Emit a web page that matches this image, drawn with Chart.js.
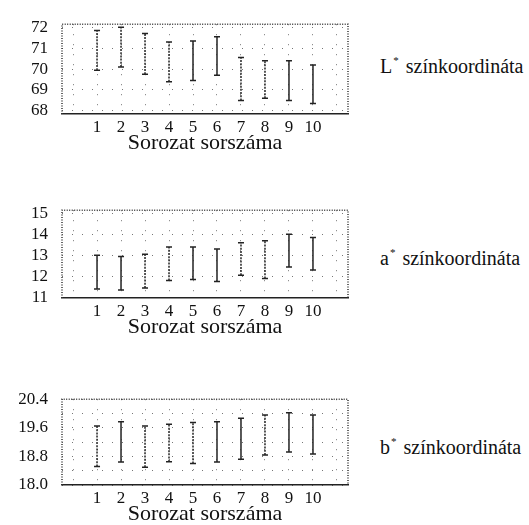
<!DOCTYPE html>
<html>
<head>
<meta charset="utf-8">
<script src="https://cdn.jsdelivr.net/npm/chart.js@4/dist/chart.umd.min.js"></script>
<style>
  body { margin: 0; background: #fff; }
  #wrap { position: relative; width: 529px; height: 525px; }
  canvas { position: absolute; left: 0; }
  .side { position: absolute; left: 380px; font-family: "Liberation Serif", Tinos, "Times New Roman", "DejaVu Serif", serif; font-size: 20px; line-height: 24px; color: #111; white-space: nowrap; }
  .side sup { font-size: 11px; vertical-align: 9px; margin-left: 1px; margin-right: 2px; }
</style>
</head>
<body>
<div id="wrap">
  <canvas id="cL" width="360" height="154" style="top:0"></canvas>
  <canvas id="cA" width="360" height="152" style="top:186px"></canvas>
  <canvas id="cB" width="360" height="150" style="top:375px"></canvas>
  <div class="side" style="top:48px">L<sup>*</sup> színkoordináta</div>
  <div class="side" style="top:240px">a<sup>*</sup> színkoordináta</div>
  <div class="side" style="top:429px">b<sup>*</sup> színkoordináta</div>
</div>
<script>
// sorozat sorszáma
const series = [1, 2, 3, 4, 5, 6, 7, 8, 9, 10];

// L* színkoordináta
const lLow  = [69.95, 70.1, 69.75, 69.4, 69.45, 69.7, 68.5, 68.6, 68.5, 68.35];
const lHigh = [71.85, 72.0, 71.7, 71.3, 71.35, 71.55, 70.55, 70.4, 70.4, 70.2];
const lTicks = ['68', '69', '70', '71', '72'];

// a* színkoordináta
const aLow  = [11.4, 11.35, 11.45, 11.8, 11.85, 11.75, 12.05, 11.9, 12.45, 12.3];
const aHigh = [13.0, 12.95, 13.05, 13.4, 13.4, 13.3, 13.6, 13.7, 14.0, 13.85];
const aTicks = ['11', '12', '13', '14', '15'];

// b* színkoordináta
const bLow  = [18.52, 18.64, 18.5, 18.65, 18.6, 18.64, 18.72, 18.84, 18.92, 18.87];
const bHigh = [19.65, 19.77, 19.65, 19.7, 19.75, 19.77, 19.87, 19.96, 20.02, 19.96];
const bTicks = ['18.0', '18.8', '19.6', '20.4'];

const serif = '"Liberation Serif", Tinos, "Times New Roman", "DejaVu Serif", serif';

// dotted frame around the plot area
const framePlugin = {
  id: 'frame',
  afterDraw(chart) {
    const { ctx, chartArea: a } = chart;
    ctx.save();
    ctx.strokeStyle = '#333';
    ctx.lineWidth = 1.5;
    ctx.setLineDash([1, 1.5]);
    ctx.beginPath();
    ctx.moveTo(a.left, a.bottom);
    ctx.lineTo(a.left, a.top);
    ctx.lineTo(a.right, a.top);
    ctx.lineTo(a.right, a.bottom);
    ctx.stroke();
    ctx.restore();
  }
};

function makePanel(id, lows, highs, yMin, yMax, yStep, yTicks, dotted) {
  // each bar: low point, high point, gap
  const pts = [];
  series.forEach((s, i) => {
    pts.push({ x: s, y: lows[i] }, { x: s, y: highs[i] }, { x: s, y: null });
  });

  new Chart(document.getElementById(id), {
    type: 'line',
    data: {
      datasets: [{
        data: pts,
        borderColor: '#222',
        borderWidth: 1.5,
        spanGaps: false,
        pointStyle: 'line',
        pointRadius: 3,
        pointBorderWidth: 1.5,
        pointBorderColor: '#222',
        segment: {
          borderDash: ctx => dotted[Math.floor(ctx.p0DataIndex / 3)] ? [2, 1.2] : undefined
        }
      }]
    },
    options: {
      responsive: false,
      animation: false,
      layout: { padding: { top: 13, right: 12, left: 0, bottom: 0 } },
      plugins: { legend: { display: false }, tooltip: { enabled: false } },
      scales: {
        x: {
          type: 'linear',
          min: -0.46,
          max: 11.46,
          afterFit: scale => { scale.height = 40; },
          grid: { color: '#777', lineWidth: 1, drawTicks: false },
          border: { display: true, color: '#222', width: 1.5, dash: [1, 9] },
          ticks: {
            stepSize: 1,
            includeBounds: false,
            autoSkip: false,
            maxRotation: 0,
            padding: 3,
            color: '#111',
            font: { family: serif, size: 17 },
            callback: v => (series.includes(v) ? String(v) : '')
          },
          title: {
            display: true,
            text: 'Sorozat sorszáma',
            color: '#111',
            padding: 0,
            font: { family: serif, size: 22, lineHeight: 1 }
          }
        },
        y: {
          min: yMin,
          max: yMax,
          afterFit: scale => { scale.width = 62; },
          grid: { color: '#777', lineWidth: 1, drawTicks: false },
          border: { display: false, dash: [1, 9] },
          ticks: {
            stepSize: yStep,
            includeBounds: false,
            autoSkip: false,
            padding: 14,
            color: '#111',
            font: { family: serif, size: 17 },
            callback: v => {
              const t = yStep < 1 ? v.toFixed(1) : String(Math.round(v));
              return yTicks.includes(t) ? t : '';
            }
          }
        }
      }
    },
    plugins: [framePlugin]
  });
}

makePanel('cL', lLow, lHigh, 67.85, 72.15, 1, lTicks,
  [true, true, true, true, false, false, true, true, false, false]);
makePanel('cA', aLow, aHigh, 10.97, 15.15, 1, aTicks,
  [false, false, true, true, false, false, true, true, false, false]);
makePanel('cB', bLow, bHigh, 18.0, 20.4, 0.4, bTicks,
  [true, false, true, true, true, false, false, true, false, false]);
</script>
</body>
</html>
